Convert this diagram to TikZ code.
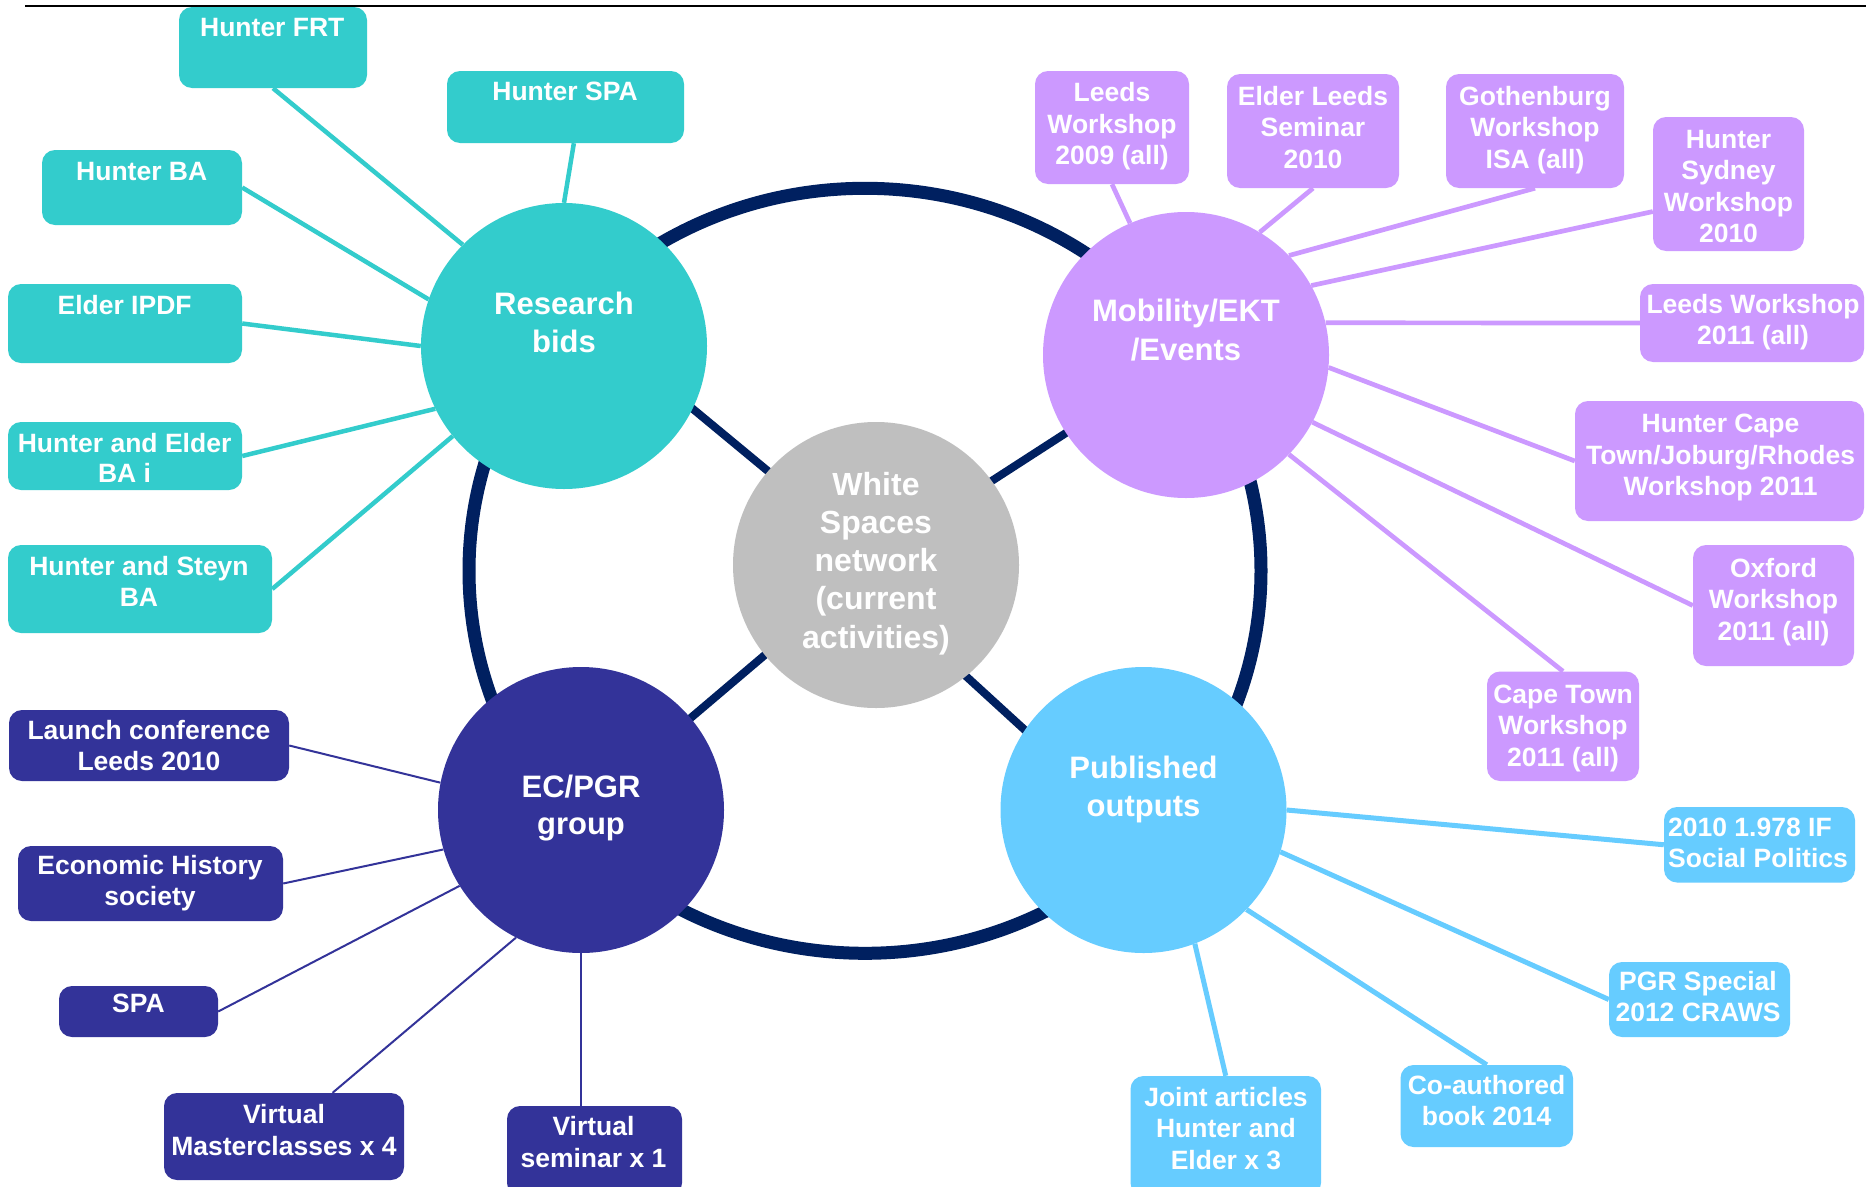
\documentclass[tikz,border=0pt]{standalone}
\usepackage{fontspec}
\setmainfont{Liberation Sans}
\usetikzlibrary{backgrounds}
\definecolor{tealc}{HTML}{33CCCC}
\definecolor{lavc}{HTML}{CC99FF}
\definecolor{navyc}{HTML}{333399}
\definecolor{bluec}{HTML}{66CCFF}
\definecolor{greyc}{HTML}{BFBFBF}
\definecolor{ringc}{HTML}{002060}
\newcommand\mlines[1]{\begin{tabular}[t]{@{}c@{}}#1\end{tabular}}
\newcommand\mlinesl[1]{\begin{tabular}[t]{@{}l@{}}#1\end{tabular}}
\begin{document}
\begin{tikzpicture}[x=1pt,y=-1pt,
  sat/.style={rectangle, rounded corners=13pt, inner sep=0pt, draw=none},
  stext/.style={text=white, font=\bfseries\fontsize{26.5}{31.5}\selectfont, inner sep=0pt, anchor=base},
  hub/.style={circle, inner sep=0pt, minimum size=286pt, draw=none},
  htext/.style={text=white, font=\bfseries\fontsize{31}{38.3}\selectfont, inner sep=0pt, anchor=base},
  wtext/.style={text=white, font=\bfseries\fontsize{32}{38.3}\selectfont, inner sep=0pt, anchor=base},
  tcon/.style={draw=tealc, line width=4.5pt},
  lcon/.style={draw=lavc, line width=4.7pt},
  ncon/.style={draw=navyc, line width=2pt},
  bcon/.style={draw=bluec, line width=5pt},
  dcon/.style={draw=ringc, line width=8pt, shorten >=-8pt, shorten <=-8pt}]
\useasboundingbox (0,0) rectangle (1866,1186);

% hubs
\node[hub, fill=greyc] (ws) at (876,565) {};
\node[hub, fill=tealc] (rb) at (564,346) {};
\node[hub, fill=lavc] (mob) at (1186,355) {};
\node[hub, fill=navyc] (ec) at (581,810) {};
\node[hub, fill=bluec] (pub) at (1143.5,810) {};
\node[wtext] (wst) at (876,495) {\mlines{White\\Spaces\\network\\(current\\activities)}};
\node[htext] (rbt) at (564,314) {\mlines{Research\\bids}};
\node[htext, font=\bfseries\fontsize{31}{39}\selectfont] (mobt) at (1186,321.7) {\mlines{Mobility/EKT\\/Events}};
\node[htext, font=\bfseries\fontsize{31}{37}\selectfont] (ect) at (581,797.7) {\mlines{EC/PGR\\group}};
\node[htext, font=\bfseries\fontsize{31}{38}\selectfont] (pubt) at (1143.5,778) {\mlines{Published\\outputs}};

% teal boxes
\node[sat, fill=tealc, minimum width=188pt, minimum height=81pt] (frt) at (273,47.5) {};
\node[stext] (frtt) at (272.3,36) {\mlines{Hunter FRT}};
\node[sat, fill=tealc, minimum width=237pt, minimum height=72pt] (spa) at (565.5,107) {};
\node[stext] (spat) at (565,100) {\mlines{Hunter SPA}};
\node[sat, fill=tealc, minimum width=200pt, minimum height=75pt] (hba) at (142,187.5) {};
\node[stext] (hbat) at (141.7,180) {\mlines{Hunter BA}};
\node[sat, fill=tealc, minimum width=234pt, minimum height=79pt] (ipdf) at (125,323.5) {};
\node[stext] (ipdft) at (124.6,314) {\mlines{Elder IPDF}};
\node[sat, fill=tealc, minimum width=234pt, minimum height=68pt] (he) at (125,456) {};
\node[stext, font=\bfseries\fontsize{26.5}{30.5}\selectfont] (het) at (124.6,452) {\mlines{Hunter and Elder\\BA i}};
\node[sat, fill=tealc, minimum width=264pt, minimum height=88pt] (steyn) at (140,589) {};
\node[stext] (steynt) at (139,575) {\mlines{Hunter and Steyn\\BA}};

% lavender boxes
\node[sat, fill=lavc, minimum width=154pt, minimum height=113pt] (l09) at (1112,127.5) {};
\node[stext] (l09t) at (1112,101.7) {\mlines{Leeds\\Workshop\\2009 (all)}};
\node[sat, fill=lavc, minimum width=172pt, minimum height=114pt] (els) at (1313,131) {};
\node[stext] (elst) at (1313,105) {\mlines{Elder Leeds\\Seminar\\2010}};
\node[sat, fill=lavc, minimum width=178pt, minimum height=114pt] (got) at (1535,131) {};
\node[stext] (gott) at (1535,105) {\mlines{Gothenburg\\Workshop\\ISA (all)}};
\node[sat, fill=lavc, minimum width=151pt, minimum height=134pt] (hsw) at (1728.5,184) {};
\node[stext] (hswt) at (1728.5,148.3) {\mlines{Hunter\\Sydney\\Workshop\\2010}};
\node[sat, fill=lavc, minimum width=224pt, minimum height=78pt] (lw11) at (1752,323) {};
\node[stext] (lw11t) at (1753,313.3) {\mlines{Leeds Workshop\\2011 (all)}};
\node[sat, fill=lavc, minimum width=289pt, minimum height=120pt] (hct) at (1719.5,461) {};
\node[stext] (hctt) at (1720.5,432.7) {\mlines{Hunter Cape\\Town/Joburg/Rhodes\\Workshop 2011}};
\node[sat, fill=lavc, minimum width=161pt, minimum height=121pt] (oxf) at (1773.5,605.5) {};
\node[stext] (oxft) at (1773.5,577) {\mlines{Oxford\\Workshop\\2011 (all)}};
\node[sat, fill=lavc, minimum width=152pt, minimum height=109.5pt] (ctw) at (1563,726.25) {};
\node[stext] (ctwt) at (1563,703) {\mlines{Cape Town\\Workshop\\2011 (all)}};

% navy boxes
\node[sat, fill=navyc, minimum width=280pt, minimum height=71pt] (lau) at (149,745.5) {};
\node[stext] (laut) at (149,739) {\mlines{Launch conference\\Leeds 2010}};
\node[sat, fill=navyc, minimum width=265pt, minimum height=75pt] (eco) at (150.5,883.5) {};
\node[stext] (ecot) at (150,874) {\mlines{Economic History\\society}};
\node[sat, fill=navyc, minimum width=159pt, minimum height=51pt] (spb) at (138.5,1011.5) {};
\node[stext] (spbt) at (138.4,1012) {\mlines{SPA}};
\node[sat, fill=navyc, minimum width=240pt, minimum height=87pt] (vm) at (284,1136.5) {};
\node[stext] (vmt) at (284,1123.5) {\mlines{Virtual\\Masterclasses x 4}};
\node[sat, fill=navyc, minimum width=175pt, minimum height=90pt] (vs) at (594.5,1151) {};
\node[stext] (vst) at (593.5,1135.5) {\mlines{Virtual\\seminar x 1}};

% light blue boxes
\node[sat, fill=bluec, minimum width=191pt, minimum height=75.5pt] (ifb) at (1759.5,844.75) {};
\node[stext, anchor=base west] (ifbt) at (1668,836) {\mlinesl{2010 1.978 IF\\Social Politics}};
\node[sat, fill=bluec, minimum width=181pt, minimum height=75pt] (pgr) at (1699.5,999.5) {};
\node[stext] (pgrt) at (1698,990) {\mlines{PGR Special\\2012 CRAWS}};
\node[sat, fill=bluec, minimum width=172.5pt, minimum height=82pt] (coa) at (1486.75,1106) {};
\node[stext] (coat) at (1486.6,1094.4) {\mlines{Co-authored\\book 2014}};
\node[sat, fill=bluec, minimum width=190.5pt, minimum height=120pt] (ja) at (1225.75,1136) {};
\node[stext] (jat) at (1226,1106.4) {\mlines{Joint articles\\Hunter and\\Elder x 3}};

\begin{scope}[on background layer]
  \fill[white] (0,0) rectangle (1866,1186);
  \draw[black, line width=1.2pt] (25,6) -- (1866,6);
  \draw[ringc, line width=13pt] (865,570.8) ellipse [x radius=396pt, y radius=382.5pt];
  % hub links
  \draw[dcon] (rb.-26.4) -- (ws.139.9);
  \draw[dcon] (ws.36.8) -- (mob.213);
  \draw[dcon] (ws.219.3) -- (ec.40.3);
  \draw[dcon] (ws.-51) -- (pub.146);
  % teal
  \draw[tcon] (frt.south) -- (rb.135);
  \draw[tcon] (spa.283) -- (rb.90);
  \draw[tcon] (hba.east) -- (rb.161);
  \draw[tcon] (ipdf.east) -- (rb.180);
  \draw[tcon] (he.east) -- (rb.206);
  \draw[tcon] (steyn.east) -- (rb.219);
  % lavender
  \draw[lcon] (l09.south) -- (mob.113);
  \draw[lcon] (els.south) -- (mob.59);
  \draw[lcon] (got.south) -- (mob.44.5);
  \draw[lcon] (hsw.200) -- (mob.29);
  \draw[lcon] (lw11.west) -- (mob.13);
  \draw[lcon] (hct.west) -- (mob.-5);
  \draw[lcon] (oxf.west) -- (mob.-28);
  \draw[lcon] (ctw.north) -- (mob.-44.5);
  % navy
  \draw[ncon] (lau.east) -- (ec.169);
  \draw[ncon] (eco.east) -- (ec.196);
  \draw[ncon] (spb.east) -- (ec.212.7);
  \draw[ncon] (vm.42.5) -- (ec.243);
  \draw[ncon] (ec.south) -- (ec.south |- vs.north);
  % light blue
  \draw[bcon] (ifb.west) -- (pub.0);
  \draw[bcon] (pgr.west) -- (pub.-17);
  \draw[bcon] (coa.north) -- (pub.-44.4);
  \draw[bcon] (ja.north) -- (pub.-69);
\end{scope}
\end{tikzpicture}
\end{document}
